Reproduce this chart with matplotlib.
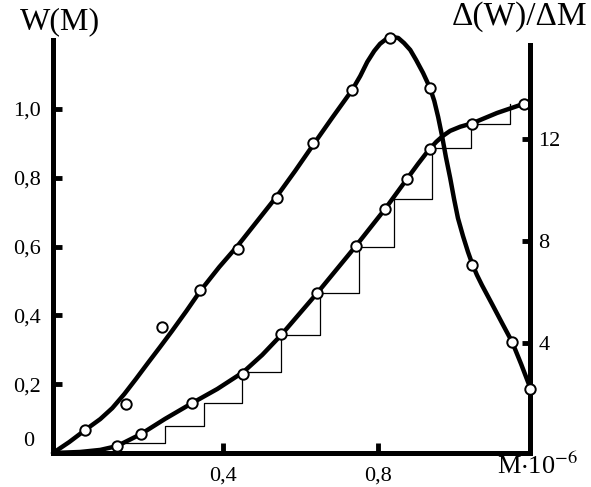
import matplotlib

matplotlib.use("Agg")

import matplotlib.pyplot as plt

plt.rcParams["font.family"] = ["Liberation Serif", "DejaVu Serif"]
plt.rcParams["mathtext.fontset"] = "stix"

# --- integral distribution W(M), left axis ---
w_line_m = [-0.039, 0.031, 0.083, 0.126, 0.188, 0.250, 0.320, 0.385, 0.452,
            0.501, 0.550, 0.643, 0.743, 0.818, 0.875, 0.903, 0.929, 0.950,
            0.968, 0.986, 1.012, 1.043, 1.107, 1.177, 1.192]
w_line_w = [0.0, 0.003, 0.009, 0.020, 0.055, 0.099, 0.145, 0.186, 0.235,
            0.285, 0.343, 0.465, 0.602, 0.709, 0.797, 0.840, 0.878, 0.904,
            0.922, 0.936, 0.948, 0.958, 0.988, 1.015, 1.020]
w_pts_m = [0.126, 0.188, 0.320, 0.452, 0.550, 0.643, 0.743, 0.818, 0.875,
           0.934, 1.043, 1.177]
w_pts_w = [0.020, 0.055, 0.145, 0.230, 0.346, 0.465, 0.602, 0.709, 0.797,
           0.884, 0.956, 1.015]
# histogram-like staircase under W(M)
step_m = [0.15, 0.25, 0.35, 0.45, 0.55, 0.65, 0.75, 0.84, 0.94, 1.04, 1.14]
step_w = [0.029, 0.078, 0.145, 0.235, 0.343, 0.465, 0.599, 0.738, 0.887,
          0.956, 1.015]

# --- differential distribution dW/dM, right axis ---
d_line_m = [-0.039, 0.003, 0.044, 0.083, 0.114, 0.145, 0.175, 0.206, 0.237,
            0.268, 0.305, 0.341, 0.390, 0.439, 0.488, 0.539, 0.586, 0.632,
            0.681, 0.733, 0.754, 0.772, 0.790, 0.805, 0.821, 0.836, 0.852,
            0.867, 0.883, 0.898, 0.916, 0.934, 0.945, 0.955, 0.965, 0.975,
            0.986, 0.996, 1.006, 1.019, 1.032, 1.043, 1.055, 1.068, 1.094,
            1.120, 1.146, 1.169, 1.192]
d_line_d = [-0.31, 0.12, 0.59, 1.02, 1.45, 2.00, 2.59, 3.22, 3.84,
            4.47, 5.25, 6.04, 6.98, 7.84, 8.78, 9.76, 10.75, 11.76,
            12.82, 13.92, 14.47, 15.02, 15.45, 15.73, 15.92, 16.00, 15.96,
            15.76, 15.49, 15.10, 14.59, 14.00, 13.49, 12.86, 12.12, 11.29,
            10.47, 9.65, 8.90, 8.20, 7.57, 7.10, 6.67, 6.27, 5.53,
            4.78, 4.04, 3.18, 2.27]
d_pts_m = [0.044, 0.150, 0.243, 0.341, 0.439, 0.539, 0.632, 0.733, 0.831,
           0.934, 1.043, 1.146, 1.192]
d_pts_d = [0.59, 1.61, 4.63, 6.08, 7.69, 9.69, 11.84, 13.92, 15.96,
           14.00, 7.06, 4.04, 2.20]

x_ticks = [0.4, 0.8]
x_labels = ["0,4", "0,8"]
w_ticks = [0.2, 0.4, 0.6, 0.8, 1.0]
w_labels = ["0,2", "0,4", "0,6", "0,8", "1,0"]
d_ticks = [4, 8, 12]
d_labels = ["4", "8", "12"]

W, H = 591, 487
fig = plt.figure(figsize=(W / 100, H / 100), dpi=100)
ax = fig.add_axes([53 / W, 1 - 453 / H, (530 - 53) / W, (453 - 40) / H])
ax2 = ax.twinx()

marker = dict(marker="o", ms=7.5, mfc="white", mec="black", mew=1.4,
              ls="none", clip_on=False, zorder=4)

ax.step(step_m, step_w, where="post", color="black", lw=0.9, zorder=1)
ax.plot(w_line_m, w_line_w, color="black", lw=3.2, solid_capstyle="round",
        solid_joinstyle="round", clip_on=False, zorder=2)
ax.plot(w_pts_m, w_pts_w, **marker)

ax2.plot(d_line_m, d_line_d, color="black", lw=3.2, solid_capstyle="round",
         solid_joinstyle="round", clip_on=False, zorder=2)
ax2.plot(d_pts_m, d_pts_d, **marker)

ax.set_xlim(-0.039, 1.192)
ax.set_ylim(0, 1.2)
ax2.set_ylim(-0.31, 15.88)

for a in (ax, ax2):
    a.spines["top"].set_visible(False)
    for s in a.spines.values():
        s.set_linewidth(3.6)
ax2.spines["left"].set_visible(False)
ax2.spines["bottom"].set_visible(False)
ax.spines["right"].set_visible(False)
ax2.spines["right"].set_bounds(-0.31, 15.69)

ax.set_xticks(x_ticks, x_labels)
ax.set_yticks(w_ticks, w_labels)
ax2.set_yticks(d_ticks, d_labels)
ax.tick_params(axis="x", direction="in", length=7, width=3.5, pad=10,
               labelsize=16)
ax.tick_params(axis="y", direction="in", length=6.5, width=3.5, pad=9,
               labelsize=16)
ax2.tick_params(axis="y", direction="in", length=6, width=3.5, pad=6,
                labelsize=16)

# "0" sits a little above the corner, left of the axis
ax.text(-0.050, 0.032, "0", transform=ax.get_yaxis_transform(),
        ha="center", va="center", fontsize=16)

fig.text(60 / W, 1 - 22 / H, "W(M)", ha="center", va="center", fontsize=23)
fig.text(520 / W, 1 - 17 / H, "Δ(W)/ΔM", ha="center", va="center", fontsize=24)
fig.text(538 / W, 1 - 466 / H, r"M$\cdot$10$^{-6}$", ha="center",
         va="center", fontsize=19)

fig.savefig("out.png", dpi=100)
